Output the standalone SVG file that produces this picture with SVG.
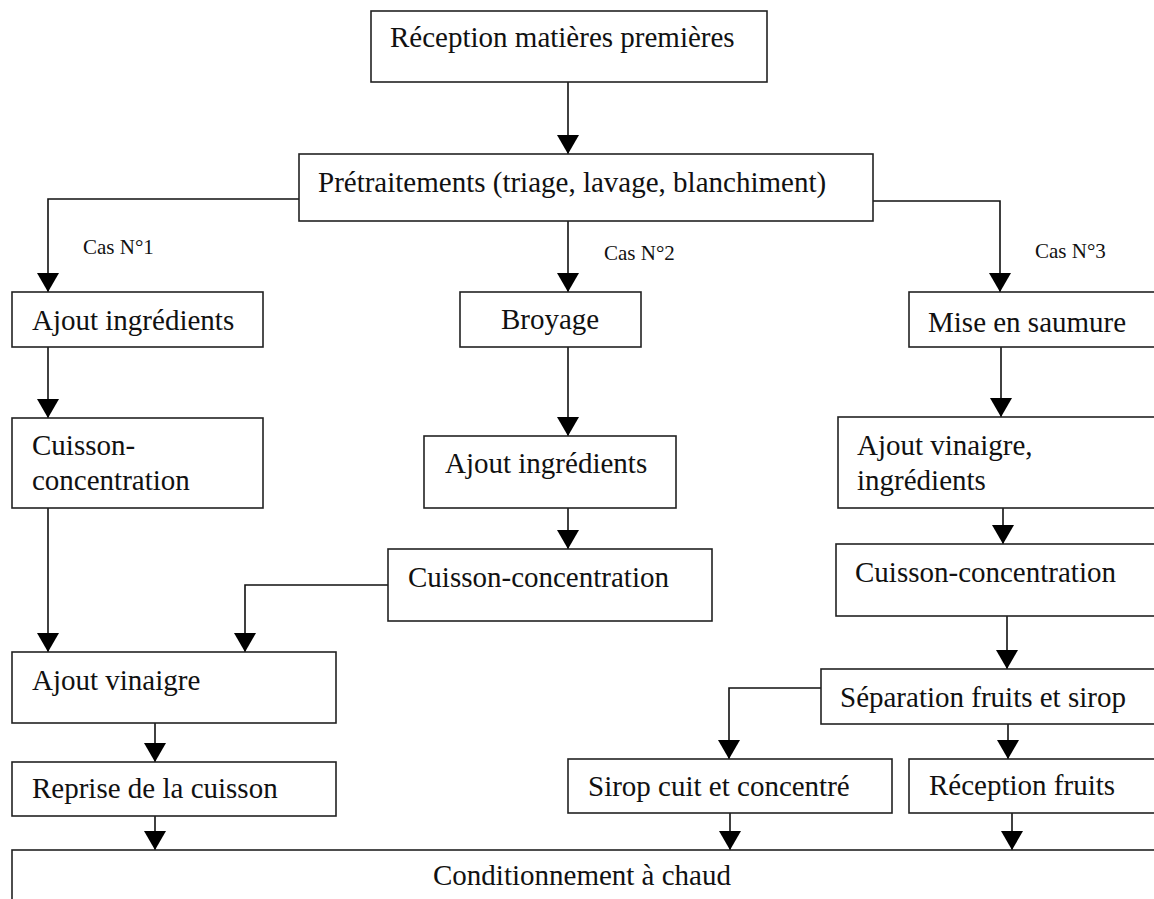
<svg xmlns="http://www.w3.org/2000/svg" width="1154" height="899" viewBox="0 0 1154 899">
  <style>
    .box { fill: #fff; stroke: #222; stroke-width: 1.6; }
    .lbl { font-family: "Liberation Serif", "Times New Roman", serif; font-size: 29px; fill: #111; }
    .cas { font-family: "Liberation Serif", "Times New Roman", serif; font-size: 21px; fill: #111; }
    .wire { fill: none; stroke: #111; stroke-width: 1.6; }
  </style>
  <defs>
    <marker id="arrow" viewBox="0 0 19 22" refX="19" refY="11" markerWidth="19" markerHeight="22" markerUnits="userSpaceOnUse" orient="auto">
      <path d="M0,0 L19,11 L0,22 z" fill="#000"/>
    </marker>
  </defs>
  <rect width="1154" height="899" fill="#fff"/>

  <!-- connectors -->
  <g id="connectors">
    <path class="wire" d="M568,82 V154" marker-end="url(#arrow)"/>
    <path class="wire" d="M299,199 H48 V292" marker-end="url(#arrow)"/>
    <path class="wire" d="M568,221 V292" marker-end="url(#arrow)"/>
    <path class="wire" d="M873,201 H1000 V292" marker-end="url(#arrow)"/>
    <path class="wire" d="M48,347 V418" marker-end="url(#arrow)"/>
    <path class="wire" d="M568,347 V436" marker-end="url(#arrow)"/>
    <path class="wire" d="M1001,347 V417" marker-end="url(#arrow)"/>
    <path class="wire" d="M568,508 V549" marker-end="url(#arrow)"/>
    <path class="wire" d="M1003,508 V544" marker-end="url(#arrow)"/>
    <path class="wire" d="M48,508 V652" marker-end="url(#arrow)"/>
    <path class="wire" d="M388,585 H245 V652" marker-end="url(#arrow)"/>
    <path class="wire" d="M1007,616 V669" marker-end="url(#arrow)"/>
    <path class="wire" d="M821,688 H729 V759" marker-end="url(#arrow)"/>
    <path class="wire" d="M1008,724 V759" marker-end="url(#arrow)"/>
    <path class="wire" d="M155,723 V762" marker-end="url(#arrow)"/>
    <path class="wire" d="M155,816 V850" marker-end="url(#arrow)"/>
    <path class="wire" d="M730,813 V850" marker-end="url(#arrow)"/>
    <path class="wire" d="M1012,813 V850" marker-end="url(#arrow)"/>
    <text class="cas" x="83" y="254">Cas N°1</text>
    <text class="cas" x="604" y="260">Cas N°2</text>
    <text class="cas" x="1035" y="258">Cas N°3</text>
  </g>

  <g id="reception-matieres">
    <rect class="box" x="371" y="11" width="396" height="71"/>
    <text class="lbl" x="390" y="47">Réception matières premières</text>
  </g>
  <g id="pretraitements">
    <rect class="box" x="299" y="154" width="574" height="67"/>
    <text class="lbl" x="318" y="192">Prétraitements (triage, lavage, blanchiment)</text>
  </g>

  <!-- Cas N°1 -->
  <g id="c1-ajout-ingredients">
    <rect class="box" x="12" y="292" width="251" height="55"/>
    <text class="lbl" x="32" y="330">Ajout ingrédients</text>
  </g>
  <g id="c1-cuisson">
    <rect class="box" x="12" y="418" width="251" height="90"/>
    <text class="lbl" x="32" y="455">Cuisson-</text>
    <text class="lbl" x="32" y="490">concentration</text>
  </g>
  <g id="ajout-vinaigre">
    <rect class="box" x="12" y="652" width="324" height="71"/>
    <text class="lbl" x="32" y="690">Ajout vinaigre</text>
  </g>
  <g id="reprise-cuisson">
    <rect class="box" x="12" y="762" width="324" height="54"/>
    <text class="lbl" x="32" y="798">Reprise de la cuisson</text>
  </g>

  <!-- Cas N°2 -->
  <g id="c2-broyage">
    <rect class="box" x="460" y="292" width="181" height="55"/>
    <text class="lbl" x="501" y="329">Broyage</text>
  </g>
  <g id="c2-ajout-ingredients">
    <rect class="box" x="424" y="436" width="252" height="72"/>
    <text class="lbl" x="445" y="473">Ajout ingrédients</text>
  </g>
  <g id="c2-cuisson">
    <rect class="box" x="388" y="549" width="324" height="72"/>
    <text class="lbl" x="408" y="587">Cuisson-concentration</text>
  </g>

  <!-- Cas N°3 -->
  <g id="c3-saumure">
    <rect class="box" x="909" y="292" width="260" height="55"/>
    <text class="lbl" x="928" y="332">Mise en saumure</text>
  </g>
  <g id="c3-ajout-vinaigre">
    <rect class="box" x="838" y="417" width="330" height="91"/>
    <text class="lbl" x="857" y="455">Ajout vinaigre,</text>
    <text class="lbl" x="857" y="490">ingrédients</text>
  </g>
  <g id="c3-cuisson">
    <rect class="box" x="836" y="544" width="330" height="72"/>
    <text class="lbl" x="855" y="582">Cuisson-concentration</text>
  </g>
  <g id="c3-separation">
    <rect class="box" x="821" y="669" width="345" height="55"/>
    <text class="lbl" x="840" y="707">Séparation fruits et sirop</text>
  </g>
  <g id="c3-sirop">
    <rect class="box" x="568" y="759" width="324" height="54"/>
    <text class="lbl" x="588" y="796">Sirop cuit et concentré</text>
  </g>
  <g id="c3-reception-fruits">
    <rect class="box" x="909" y="759" width="260" height="54"/>
    <text class="lbl" x="929" y="795">Réception fruits</text>
  </g>

  <g id="conditionnement">
    <rect class="box" x="12" y="850" width="1160" height="70"/>
    <text class="lbl" x="433" y="885">Conditionnement à chaud</text>
  </g>
</svg>
